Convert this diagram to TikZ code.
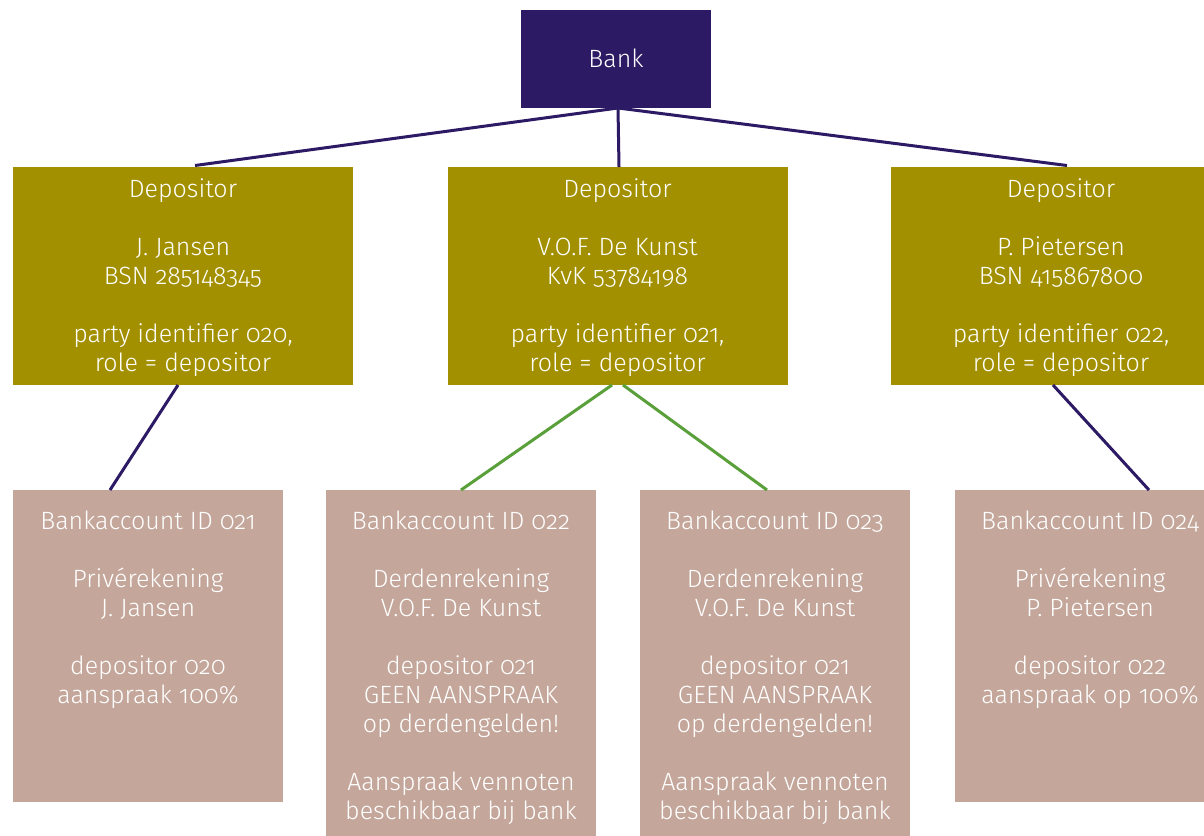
\documentclass[tikz,border=0pt]{standalone}
\usepackage{fontspec}
\setmainfont{Fira Sans}[UprightFont=* Light, Numbers=OldStyle]
\definecolor{bankpurple}{HTML}{2C1A64}
\definecolor{depolive}{HTML}{A39000}
\definecolor{acctaupe}{HTML}{C4A69A}
\definecolor{linkgreen}{HTML}{5AA03A}
\begin{document}
\begin{tikzpicture}[x=1pt,y=-1pt,
  plainbox/.style={rectangle, inner sep=0pt, outer sep=0pt},
  bankbox/.style={plainbox, fill=bankpurple, minimum width=190pt, minimum height=98pt},
  depbox/.style={plainbox, fill=depolive, minimum width=340pt, minimum height=218pt},
  accbox/.style={plainbox, fill=acctaupe, minimum width=270pt, minimum height=#1},
  boxtext/.style={text=white, align=center, inner sep=0pt, anchor=north,
    font=\fontsize{25}{29}\selectfont},
  darklink/.style={draw=bankpurple, line width=3pt},
  greenlink/.style={draw=linkgreen, line width=3pt}]
\clip (0,0) rectangle (1204,835);
\fill[white] (0,0) rectangle (1204,835);

% top level
\node[bankbox] (bank) at (616,59) {};
\node[text=white, font=\fontsize{25}{29}\selectfont] (banktxt) at ([yshift=1pt]bank.center) {Bank};

% depositors
\node[depbox] (dep1) at (183,276) {};
\node[depbox] (dep2) at (617.5,276) {};
\node[depbox] (dep3) at (1061,276) {};
\node[boxtext] (dep1txt) at ([yshift=-11.5pt]dep1.north)
  {Depositor\\[29pt]J. Jansen\\BSN 285148345\\[29pt]party identifier 020,\\role = depositor};
\node[boxtext] (dep2txt) at ([yshift=-11.5pt]dep2.north)
  {Depositor\\[29pt]V.O.F. De Kunst\\KvK 53784198\\[29pt]party identifier 021,\\role = depositor};
\node[boxtext] (dep3txt) at ([yshift=-11.5pt]dep3.north)
  {Depositor\\[29pt]P. Pietersen\\BSN 415867800\\[29pt]party identifier 022,\\role = depositor};

% bank accounts
\node[accbox=312pt, anchor=north] (acc1) at (148,490) {};
\node[accbox=360pt, anchor=north] (acc2) at (461,490) {};
\node[accbox=360pt, anchor=north] (acc3) at (775,490) {};
\node[accbox=312pt, anchor=north] (acc4) at (1090,490) {};
\node[boxtext] (acc1txt) at ([yshift=-21pt]acc1.north)
  {Bankaccount ID 021\\[29pt]Privérekening\\J. Jansen\\[29pt]depositor 020\\aanspraak 100\%};
\node[boxtext] (acc2txt) at ([yshift=-21pt]acc2.north)
  {Bankaccount ID 022\\[29pt]Derdenrekening\\V.O.F. De Kunst\\[29pt]depositor 021\\GEEN AANSPRAAK\\op derdengelden!\\[29pt]Aanspraak vennoten\\beschikbaar bij bank};
\node[boxtext] (acc3txt) at ([yshift=-21pt]acc3.north)
  {Bankaccount ID 023\\[29pt]Derdenrekening\\V.O.F. De Kunst\\[29pt]depositor 021\\GEEN AANSPRAAK\\op derdengelden!\\[29pt]Aanspraak vennoten\\beschikbaar bij bank};
\node[boxtext] (acc4txt) at ([yshift=-21pt]acc4.north)
  {Bankaccount ID 024\\[29pt]Privérekening\\P. Pietersen\\[29pt]depositor 022\\aanspraak op 100\%};

% connectors
\draw[darklink] ([xshift=2pt]bank.south) -- ([xshift=12pt,yshift=1.5pt]dep1.north);
\draw[darklink] ([xshift=2pt]bank.south) -- ([xshift=1.5pt]dep2.north);
\draw[darklink] ([xshift=2pt]bank.south) -- ([xshift=6pt,yshift=1.5pt]dep3.north);
\draw[darklink] ([xshift=-5pt]dep1.south) -- ([xshift=-38pt]acc1.north);
\draw[greenlink] ([xshift=-5.5pt]dep2.south) -- (acc2.north);
\draw[greenlink] ([xshift=5.5pt]dep2.south) -- ([xshift=-8pt]acc3.north);
\draw[darklink] ([xshift=-8pt]dep3.south) -- ([xshift=59pt]acc4.north);
\end{tikzpicture}
\end{document}
